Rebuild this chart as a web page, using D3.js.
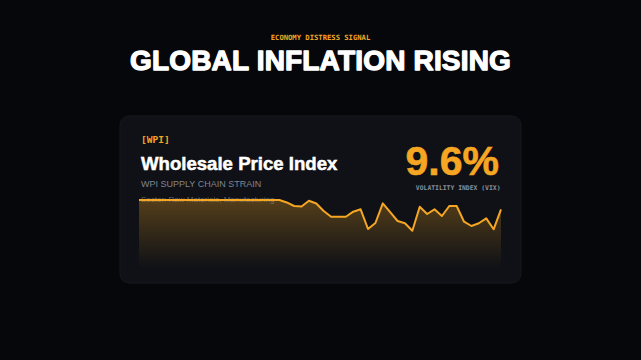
<!DOCTYPE html>
<html><head><meta charset="utf-8">
<script src="https://cdn.jsdelivr.net/npm/d3@7/dist/d3.min.js"></script>
<style>html,body{margin:0;padding:0;background:#07080b;overflow:hidden;}</style>
</head><body>
<svg id="c" width="641" height="360"></svg>
<script>
const kicker = "ECONOMY DISTRESS SIGNAL";
const headline = "GLOBAL INFLATION RISING";
const tag = "[WPI]";
const cardTitle = "Wholesale Price Index";
const subtitle = "WPI SUPPLY CHAIN STRAIN";
const sector = "Sector: Raw Materials, Manufacturing";
const bigValue = "9.6%";
const bigLabel = "VOLATILITY INDEX (VIX)";
const strain = [100,100,100,100,100,100,100,100,100,100,100,100,100,100,100,100,100,100,100,100,
  96.2,90.8,90.0,98.9,94.6,83.1,74.3,74.3,74.3,82.0,85.7,55.4,64.6,94.9,81.5,67.7,64.2,52.8,89.7,78.5,
  85.7,75.4,90.8,90.8,66.6,60.0,64.2,71.8,54.9,85.7];

const svg = d3.select("#c");
const orange = "#f5a623";

svg.append("rect").attr("width",641).attr("height",360).attr("fill","#06070a");

svg.append("text").attr("x",320.5).attr("y",40).attr("text-anchor","middle")
  .attr("font-family","'DejaVu Sans Mono', monospace").attr("font-weight","bold")
  .attr("font-size",7.2).attr("fill",orange).text(kicker);
svg.append("text").attr("x",320.5).attr("y",70).attr("text-anchor","middle")
  .attr("font-family","'Liberation Sans', Arial, sans-serif").attr("font-weight","bold")
  .attr("font-size",28).attr("letter-spacing",0.18).attr("fill","#ffffff").attr("stroke","#ffffff").attr("stroke-width",1.3)
  .attr("stroke-linejoin","round").text(headline);

// card
svg.append("rect").attr("x",120).attr("y",116).attr("width",401).attr("height",167)
  .attr("rx",9).attr("fill","#0f1116").attr("stroke","#15181e").attr("stroke-width",1);

const defs = svg.append("defs");
const g = defs.append("linearGradient").attr("id","ag").attr("x1",0).attr("y1",0).attr("x2",0).attr("y2",1);
g.append("stop").attr("offset","0%").attr("stop-color",orange).attr("stop-opacity",0.3);
g.append("stop").attr("offset","100%").attr("stop-color",orange).attr("stop-opacity",0);

const x = d3.scaleLinear().domain([0,strain.length-1]).range([139,501]);
const y = d3.scaleLinear().domain([0,100]).range([265,200]);

svg.append("text").attr("x",141).attr("y",143).attr("font-family","'DejaVu Sans Mono', monospace")
  .attr("font-weight","bold").attr("font-size",9.5).attr("fill",orange).text(tag);
svg.append("text").attr("x",141).attr("y",169.5).attr("font-family","'Liberation Sans', Arial, sans-serif")
  .attr("font-weight","bold").attr("font-size",18.6).attr("fill","#ffffff")
  .attr("stroke","#ffffff").attr("stroke-width",0.5).text(cardTitle);
svg.append("text").attr("x",141).attr("y",187).attr("font-family","'Liberation Sans', Arial, sans-serif")
  .attr("font-size",9).attr("fill","#80858f").text(subtitle);
svg.append("text").attr("x",141).attr("y",202).attr("font-family","'Liberation Sans', Arial, sans-serif")
  .attr("font-size",8).attr("fill","#5e636c").text(sector);

svg.append("text").attr("x",499).attr("y",175).attr("text-anchor","end")
  .attr("font-family","'Liberation Sans', Arial, sans-serif").attr("font-weight","bold")
  .attr("font-size",41).attr("fill",orange).attr("stroke",orange).attr("stroke-width",0.6).text(bigValue);
svg.append("text").attr("x",500.5).attr("y",190).attr("text-anchor","end")
  .attr("font-family","'DejaVu Sans Mono', monospace").attr("font-weight","bold")
  .attr("font-size",6.4).attr("fill","#8a8f99").text(bigLabel);

const area = d3.area().x((d,i)=>x(i)).y0(268).y1(d=>y(d));
svg.append("path").datum(strain).attr("d",area).attr("fill","url(#ag)");
const line = d3.line().x((d,i)=>x(i)).y(d=>y(d));
svg.append("path").datum(strain).attr("d",line).attr("fill","none")
  .attr("stroke",orange).attr("stroke-width",2).attr("stroke-linejoin","round");
</script>
</body></html>
